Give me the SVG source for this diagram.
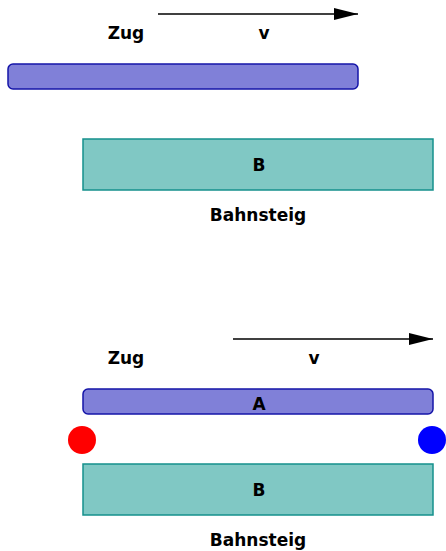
<svg xmlns="http://www.w3.org/2000/svg" width="446" height="551" viewBox="0 0 446 551">
  <style>
    .lbl { font-family: "DejaVu Sans", "Liberation Sans", sans-serif; font-size: 17px; font-weight: bold; fill: #000; text-anchor: middle; }
    .train { fill: #8080d8; stroke: #1414a8; stroke-width: 1.5; }
    .platform { fill: #80c8c4; stroke: #14908c; stroke-width: 1.5; }
    .vel { stroke: #000; stroke-width: 1.5; fill: none; marker-end: url(#arrow); }
  </style>
  <defs>
    <marker id="arrow" markerWidth="24" markerHeight="12" refX="24" refY="6" orient="auto" markerUnits="userSpaceOnUse">
      <path d="M0,0 L24,6 L0,12 Z" fill="#000"/>
    </marker>
  </defs>
  <rect width="446" height="551" fill="#fff"/>

  <!-- first scene: train ahead of the platform -->
  <g id="zug1-label"><text class="lbl" x="126" y="39">Zug</text></g>
  <g id="v1-label"><text class="lbl" x="264" y="39">v</text></g>
  <g id="zug1"><rect class="train" x="8" y="64" width="350" height="25" rx="5"/></g>
  <g id="bahnsteig1">
    <rect class="platform" x="83" y="139" width="350" height="51"/>
    <text class="lbl" x="259" y="171">B</text>
    <text class="lbl" x="258" y="221">Bahnsteig</text>
  </g>

  <!-- second scene: train aligned with the platform -->
  <g id="zug2-label"><text class="lbl" x="126" y="364">Zug</text></g>
  <g id="v2-label"><text class="lbl" x="314" y="364">v</text></g>
  <g id="zug2">
    <rect class="train" x="83" y="389" width="350" height="25" rx="5"/>
    <text class="lbl" x="259" y="410">A</text>
  </g>
  <g id="punkt-rot"><circle cx="82" cy="440" r="14" fill="#ff0000"/></g>
  <g id="punkt-blau"><circle cx="432" cy="440" r="14" fill="#0000ff"/></g>
  <g id="bahnsteig2">
    <rect class="platform" x="83" y="464" width="350" height="51"/>
    <text class="lbl" x="259" y="496">B</text>
    <text class="lbl" x="258" y="546">Bahnsteig</text>
  </g>

  <!-- velocity arrows -->
  <g id="connectors">
    <line class="vel" x1="158" y1="14" x2="358" y2="14"/>
    <line class="vel" x1="233" y1="339" x2="433" y2="339"/>
  </g>
</svg>
